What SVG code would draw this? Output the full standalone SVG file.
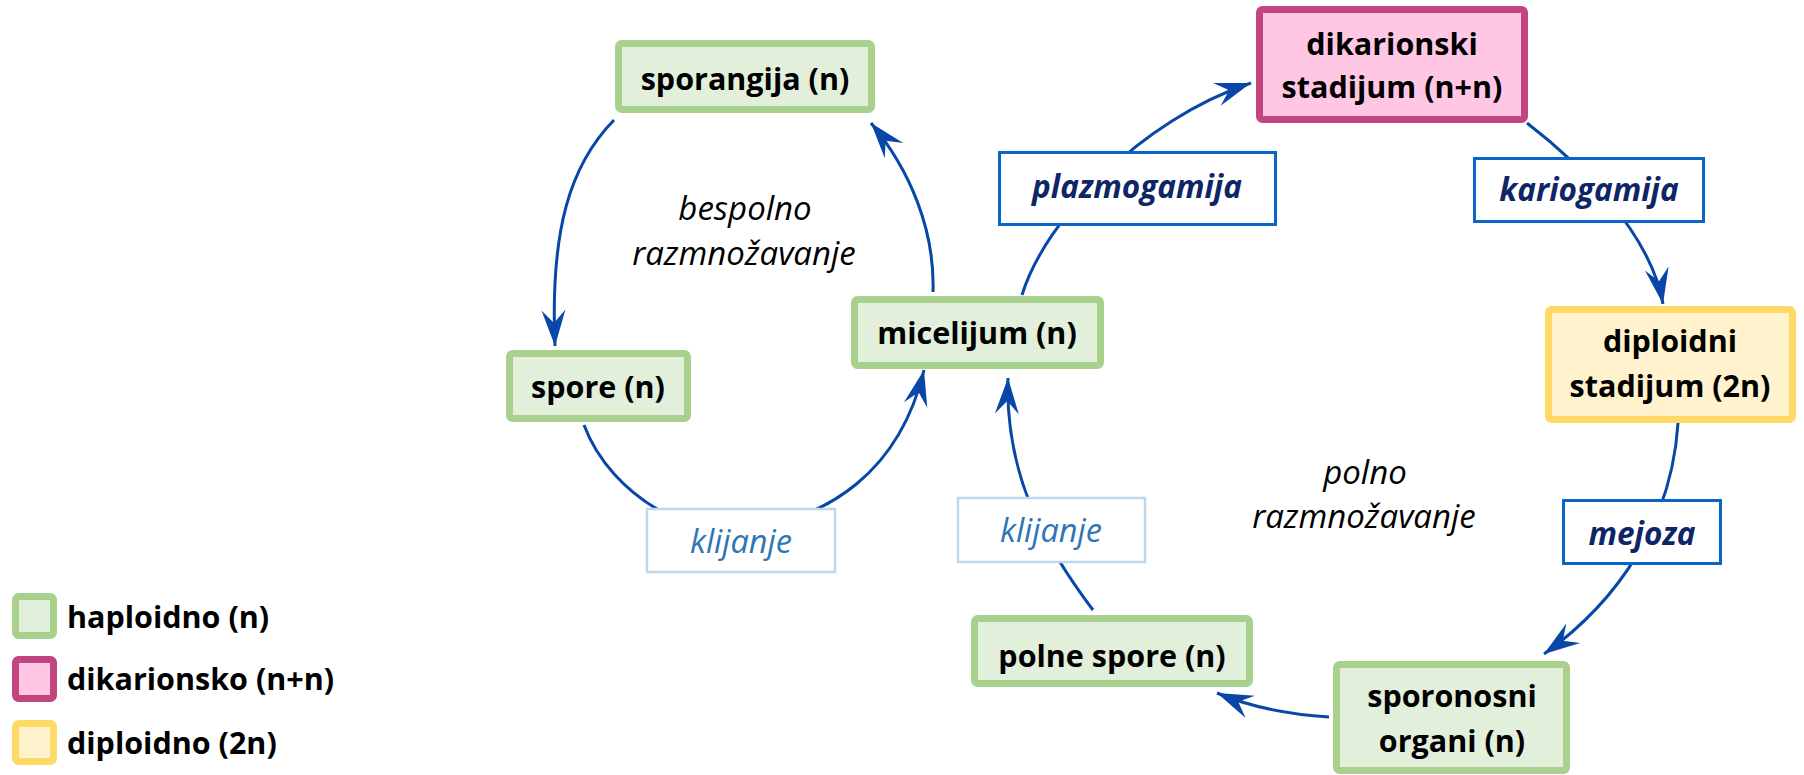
<svg xmlns="http://www.w3.org/2000/svg" width="1804" height="775" viewBox="0 0 1804 775">
<style>
  text { font-family: "Open Sans", "Noto Sans", sans-serif; }
  .nt { font-size: 30.5px; font-weight: bold; fill: #000; text-anchor: middle; }
  .lt { font-size: 30.5px; font-weight: bold; fill: #000; }
  .hap { fill: #e2efda; stroke: #a9d18e; stroke-width: 7; }
  .dik { fill: #ffc7e4; stroke: #c2457f; stroke-width: 7; }
  .dip { fill: #fff2cc; stroke: #ffd966; stroke-width: 7; }
  .lab { fill: #fff; stroke: #0b64c8; stroke-width: 3; }
  .labl { fill: #fff; stroke: #bdd7ee; stroke-width: 2.5; }
  .ltx { font-size: 31.5px; font-weight: bold; font-style: italic; fill: #0e2566; text-anchor: middle; }
  .ltxl { font-size: 32.5px; font-style: italic; fill: #2e75b6; text-anchor: middle; }
  .free { font-size: 33px; font-style: italic; fill: #000; text-anchor: middle; }
  .c { fill: none; stroke: #0847a8; stroke-width: 3; }
  .ca { fill: none; stroke: #0847a8; stroke-width: 3; marker-end: url(#ah); }
</style>
<defs>
  <marker id="ah" markerUnits="userSpaceOnUse" viewBox="-40 -15 42 30" markerWidth="42" markerHeight="30" refX="0" refY="0" orient="auto">
    <path d="M0,0 L-36,-12 L-23,0 L-36,12 Z" fill="#0847a8"/>
  </marker>
</defs>

<g id="connectors">
  <path class="ca" d="M614,120 C570,165 550,230 555,346"/>
  <path class="ca" d="M933,292 C935,230 910,170 871,123"/>
  <path class="ca" d="M584,425 C612,500 700,540 740,530 C830,520 900,470 924,370"/>
  <path class="ca" d="M1022,295 C1045,220 1140,120 1251,83"/>
  <path class="ca" d="M1527,123 C1575,160 1650,230 1663,304"/>
  <path class="ca" d="M1678,423 C1672,520 1620,600 1544,654"/>
  <path class="ca" d="M1329,717 Q1265,713 1217,693"/>
  <path class="ca" d="M1093,610 C1040,540 1005,470 1008,378"/>
</g>

<g id="sporangija">
  <rect class="hap" x="618.5" y="43.5" width="253" height="66" rx="3"/>
  <text class="nt" x="745" y="90">sporangija (n)</text>
</g>
<g id="spore">
  <rect class="hap" x="509.5" y="353.5" width="178" height="65" rx="3"/>
  <text class="nt" x="598" y="398">spore (n)</text>
</g>
<g id="micelijum">
  <rect class="hap" x="854.5" y="299.5" width="246" height="66" rx="3"/>
  <text class="nt" x="977" y="344">micelijum (n)</text>
</g>
<g id="dikarionski">
  <rect class="dik" x="1259.5" y="9.5" width="265" height="110" rx="3"/>
  <text class="nt" x="1392" y="55">dikarionski</text>
  <text class="nt" x="1392" y="98">stadijum (n+n)</text>
</g>
<g id="diploidni">
  <rect class="dip" x="1548.5" y="309.5" width="244" height="110" rx="3"/>
  <text class="nt" x="1670" y="352">diploidni</text>
  <text class="nt" x="1670" y="397">stadijum (2n)</text>
</g>
<g id="sporonosni">
  <rect class="hap" x="1336.5" y="664.5" width="230" height="106" rx="3"/>
  <text class="nt" x="1452" y="707">sporonosni</text>
  <text class="nt" x="1452" y="752">organi (n)</text>
</g>
<g id="polne-spore">
  <rect class="hap" x="974.5" y="618.5" width="275" height="65" rx="3"/>
  <text class="nt" x="1112" y="667">polne spore (n)</text>
</g>

<g id="plazmogamija">
  <rect class="lab" x="999.5" y="152.5" width="276" height="72"/>
  <text class="ltx" x="1137" y="198">plazmogamija</text>
</g>
<g id="kariogamija">
  <rect class="lab" x="1474.5" y="158.5" width="229" height="63"/>
  <text class="ltx" x="1589" y="201">kariogamija</text>
</g>
<g id="mejoza">
  <rect class="lab" x="1563.5" y="500.5" width="157" height="63"/>
  <text class="ltx" x="1642" y="545">mejoza</text>
</g>
<g id="klijanje1">
  <rect class="labl" x="647" y="509" width="188" height="63"/>
  <text class="ltxl" x="741" y="553">klijanje</text>
</g>
<g id="klijanje2">
  <rect class="labl" x="958" y="498" width="187" height="64"/>
  <text class="ltxl" x="1051" y="542">klijanje</text>
</g>

<g id="bespolno">
  <text class="free" x="745" y="220">bespolno</text>
  <text class="free" x="744" y="265">razmnožavanje</text>
</g>
<g id="polno">
  <text class="free" x="1365" y="484">polno</text>
  <text class="free" x="1364" y="528">razmnožavanje</text>
</g>

<g id="legend">
  <rect class="hap" x="15.5" y="596.5" width="38" height="39" rx="3"/>
  <text class="lt" x="67" y="628">haploidno (n)</text>
  <rect class="dik" x="15.5" y="659.5" width="38" height="39" rx="3"/>
  <text class="lt" x="67" y="690">dikarionsko (n+n)</text>
  <rect class="dip" x="15.5" y="723.5" width="38" height="38" rx="3"/>
  <text class="lt" x="67" y="754">diploidno (2n)</text>
</g>
</svg>
